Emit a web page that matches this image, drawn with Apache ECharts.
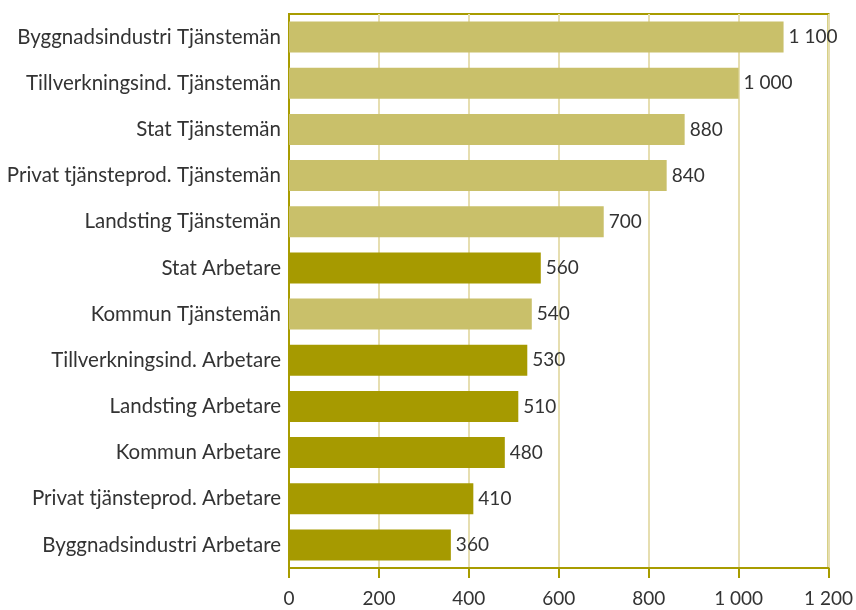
<!DOCTYPE html>
<html style="height: 100%">
<head>
    <meta charset="utf-8">
    <title>Bars</title>
</head>
<body style="height: 100%; margin: 0">
<div id="container" style="width: 856px; height: 610px"></div>

<script src="https://cdn.jsdelivr.net/npm/echarts@6/dist/echarts.min.js"></script>
<script type="text/javascript">
var categories = ['Byggnadsindustri Tjänstemän', 'Tillverkningsind. Tjänstemän', 'Stat Tjänstemän',
    'Privat tjänsteprod. Tjänstemän', 'Landsting Tjänstemän', 'Stat Arbetare', 'Kommun Tjänstemän',
    'Tillverkningsind. Arbetare', 'Landsting Arbetare', 'Kommun Arbetare',
    'Privat tjänsteprod. Arbetare', 'Byggnadsindustri Arbetare'];
var values = [1100, 1000, 880, 840, 700, 560, 540, 530, 510, 480, 410, 360];
var groups = ['T', 'T', 'T', 'T', 'T', 'A', 'T', 'A', 'A', 'A', 'A', 'A'];

var groupColor = { T: '#C9C06A', A: '#A69A00' };
var olive = '#A89C00';

// 1 100 style thousands
function fmt(v) {
    return String(v).replace(/\B(?=(\d{3})+(?!\d))/g, ' ');
}

var barData = [];
for (var i = 0; i < values.length; i++) {
    barData.push({ value: values[i], itemStyle: { color: groupColor[groups[i]] } });
}

var myChart = echarts.init(document.getElementById('container'));
var option = {
    backgroundColor: '#ffffff',
    animation: false,
    textStyle: { fontFamily: 'Lato' },
    grid: {
        left: 289, right: 26, top: 14, bottom: 42,
        show: true,
        borderColor: olive,
        borderWidth: 2
    },
    xAxis: {
        type: 'value',
        min: 0,
        max: 1200,
        interval: 200,
        axisLine: { show: true, lineStyle: { color: olive, width: 2 } },
        axisTick: { show: true, length: 10, lineStyle: { color: olive, width: 2 } },
        splitLine: { show: true, lineStyle: { color: '#E6DEB0', width: 2 } },
        axisLabel: {
            color: '#333',
            fontSize: 19,
            margin: 21,
            formatter: fmt
        }
    },
    yAxis: {
        type: 'category',
        inverse: true,
        data: categories,
        axisLine: { show: true, lineStyle: { color: olive, width: 2 } },
        axisTick: { show: false },
        axisLabel: { color: '#333', fontSize: 20.5, margin: 8 }
    },
    series: [{
        type: 'bar',
        data: barData,
        barWidth: '67%',
        label: {
            show: true,
            position: 'right',
            distance: 5,
            color: '#333',
            fontSize: 19,
            formatter: function (p) { return fmt(p.value); }
        }
    }]
};
myChart.setOption(option);
</script>
</body>
</html>
